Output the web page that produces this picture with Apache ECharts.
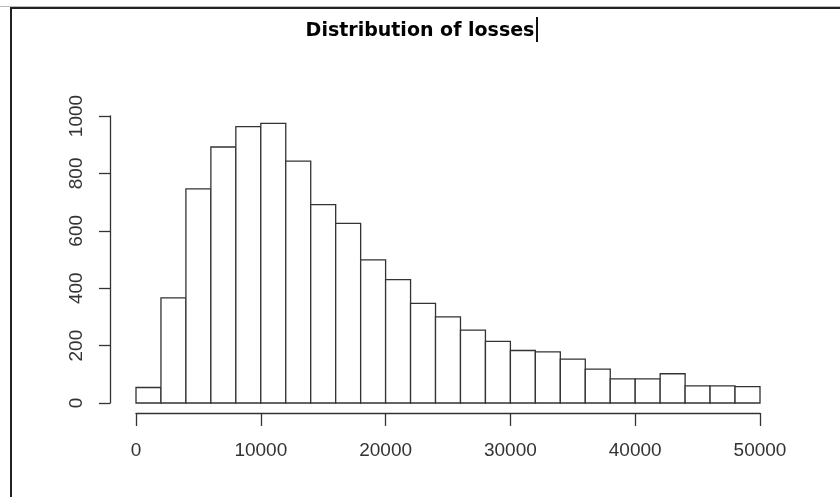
<!DOCTYPE html>
<html>
<head>
<meta charset="utf-8">
<title>Distribution of losses</title>
<script src="https://cdn.jsdelivr.net/npm/echarts@6/dist/echarts.min.js"></script>
<style>
  html, body { margin: 0; padding: 0; background: #fff; }
  #chart { width: 840px; height: 497px; }
</style>
</head>
<body>
<div id="chart"></div>
<script>
// histogram of losses, bins of 2000
const binWidth = 2000;
const counts = [54, 366, 746, 892, 963, 974, 843, 691, 626, 499, 430, 347, 300,
  254, 215, 183, 178, 153, 118, 84, 84, 102, 60, 60, 57];
const xTicks = [0, 10000, 20000, 30000, 40000, 50000];
const yTicks = [0, 200, 400, 600, 800, 1000];

const bins = counts.map((c, i) => [i * binWidth, (i + 1) * binWidth, c]);

const chart = echarts.init(document.getElementById("chart"));

chart.setOption({
  animation: false,
  backgroundColor: "#fff",
  title: {
    text: "Distribution of losses",
    left: "center",
    top: 17,
    textStyle: {
      fontFamily: "DejaVu Sans",
      fontWeight: "bold",
      fontSize: 19,
      color: "#000",
    },
  },
  grid: { left: 136, right: 80, top: 116, bottom: 94 },
  xAxis: {
    type: "value",
    min: xTicks[0],
    max: xTicks[xTicks.length - 1],
    interval: 10000,
    offset: 10,
    axisLine: { show: true, onZero: false, lineStyle: { color: "#333", width: 1.3 } },
    axisTick: { show: true, length: 13, lineStyle: { color: "#333", width: 1.3 } },
    axisLabel: {
      margin: 28,
      fontFamily: "Liberation Sans",
      fontSize: 19,
      color: "#333",
      formatter: (v) => String(v),
    },
    splitLine: { show: false },
  },
  yAxis: {
    type: "value",
    min: yTicks[0],
    max: yTicks[yTicks.length - 1],
    interval: 200,
    offset: 26,
    axisLine: { show: true, onZero: false, lineStyle: { color: "#333", width: 1.3 } },
    axisTick: { show: true, length: 11, lineStyle: { color: "#333", width: 1.3 } },
    axisLabel: {
      rotate: 90,
      margin: 24,
      fontFamily: "Liberation Sans",
      fontSize: 19,
      color: "#333",
      formatter: (v) => String(v),
    },
    splitLine: { show: false },
  },
  series: [
    {
      type: "custom",
      data: bins,
      encode: { x: [0, 1], y: 2 },
      renderItem: (params, api) => {
        const p0 = api.coord([api.value(0), 0]);
        const p1 = api.coord([api.value(1), api.value(2)]);
        return {
          type: "rect",
          shape: { x: p0[0], y: p1[1], width: p1[0] - p0[0], height: p0[1] - p1[1] },
          style: { fill: "#fff", stroke: "#333", lineWidth: 1.3 },
        };
      },
    },
  ],
  graphic: [
    // window frame
    { type: "rect", shape: { x: 0, y: 6, width: 840, height: 1 }, style: { fill: "#bbb" } },
    { type: "rect", shape: { x: 10, y: 7, width: 830, height: 2 }, style: { fill: "#222" } },
    { type: "rect", shape: { x: 10, y: 7, width: 2, height: 490 }, style: { fill: "#222" } },
    // text cursor after the title
    { type: "rect", shape: { x: 536, y: 17, width: 2, height: 25 }, style: { fill: "#111" } },
  ],
});
</script>
</body>
</html>
